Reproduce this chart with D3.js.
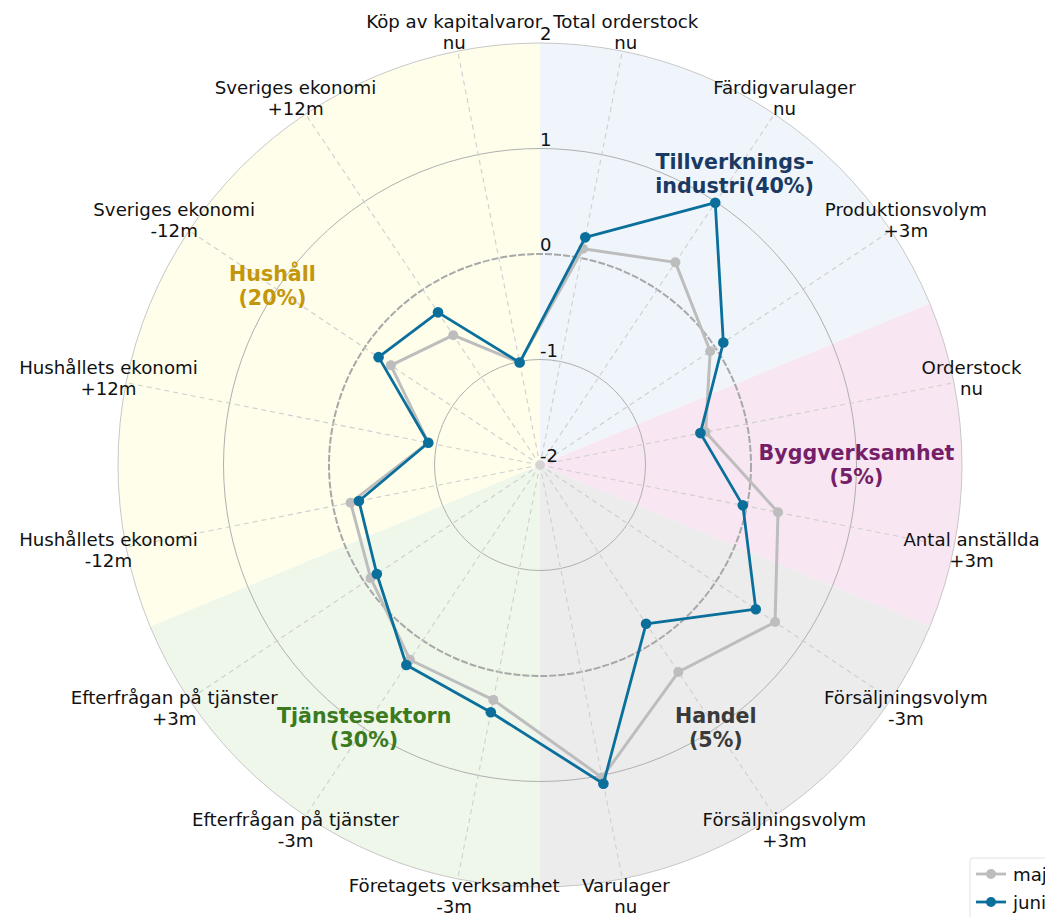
<!DOCTYPE html>
<html>
<head>
<meta charset="utf-8">
<script src="https://cdn.jsdelivr.net/npm/d3@7"></script>
<style>
  body { margin: 0; background: #fff; overflow: hidden; }
  svg { font-family: "DejaVu Sans", sans-serif; display: block; }
</style>
</head>
<body>
<svg id="chart" width="1045" height="917"></svg>
<script>

// questions, clockwise from the top
var categories = [
    ['Total orderstock', 'nu'],
    ['Färdigvarulager', 'nu'],
    ['Produktionsvolym', '+3m'],
    ['Orderstock', 'nu'],
    ['Antal anställda', '+3m'],
    ['Försäljningsvolym', '-3m'],
    ['Försäljningsvolym', '+3m'],
    ['Varulager', 'nu'],
    ['Företagets verksamhet', '-3m'],
    ['Efterfrågan på tjänster', '-3m'],
    ['Efterfrågan på tjänster', '+3m'],
    ['Hushållets ekonomi', '-12m'],
    ['Hushållets ekonomi', '+12m'],
    ['Sveriges ekonomi', '-12m'],
    ['Sveriges ekonomi', '+12m'],
    ['Köp av kapitalvaror', 'nu']
];

var seriesNames = ['maj', 'juni'];
var valuesPrev = [0.09, 0.31, -0.06, -0.40, 0.30, 0.68, 0.36, 1.02, 0.27, 0.22, -0.07, -0.17, -0.92, -0.30, -0.52, -1.01];
var valuesLast = [0.20, 0.99, 0.09, -0.45, -0.04, 0.46, -0.19, 1.08, 0.39, 0.28, -0.14, -0.25, -0.92, -0.16, -0.26, -1.01];

var sectorNames = [['Tillverknings-', 'industri(40%)'], ['Byggverksamhet', '(5%)'], ['Handel', '(5%)'], ['Tjänstesektorn', '(30%)'], ['Hushåll', '(20%)']];
var sectorCounts = [3, 2, 3, 3, 5];

var rTicks = [-2, -1, 0, 1, 2];

// styling
var sectorFill = ['#eff5fa', '#f8e6f2', '#ececec', '#eef7ea', '#fefeeb'];
var sectorText = ['#1b3a63', '#751f68', '#3a3a3a', '#3b7a1f', '#c4960c'];
var sectorLabelR = [1.32, 1.0, 1.0, 1.0, 1.05];
var seriesColors = ['#bdbdbd', '#0a6f9b'];

var cx = 540, cy = 465;
var n = categories.length;
var step = 2 * Math.PI / n;

var r = d3.scaleLinear().domain([-2, 2]).range([0, 422]);

function angleOf(i) { return (i + 0.5) * step; }
function px(a, rad) { return Math.sin(a) * rad; }
function py(a, rad) { return -Math.cos(a) * rad; }

var svg = d3.select('#chart');
var g = svg.append('g').attr('transform', 'translate(' + cx + ',' + cy + ')');

// sector backgrounds
var arc = d3.arc().innerRadius(0).outerRadius(r(2));
var start = 0;
var sectors = sectorCounts.map(function(c, i) {
    var s = { start: start * step, end: (start + c) * step, idx: i };
    start += c;
    return s;
});

g.selectAll('.sector')
    .data(sectors)
  .enter().append('path')
    .attr('class', 'sector')
    .attr('d', function(d) { return arc({ startAngle: d.start, endAngle: d.end }); })
    .attr('fill', function(d) { return sectorFill[d.idx]; });

// rings
g.selectAll('.ring')
    .data(rTicks.filter(function(t) { return t > -2; }))
  .enter().append('circle')
    .attr('class', 'ring')
    .attr('r', function(d) { return r(d); })
    .attr('fill', 'none')
    .attr('stroke', function(d) { return d == 0 ? '#a8a8a8' : (d == 2 ? '#c8c8c8' : '#b0b0b0'); })
    .attr('stroke-width', function(d) { return d == 0 ? 2 : 1; })
    .attr('stroke-dasharray', function(d) { return d == 0 ? '7,2' : null; });

// spokes
g.selectAll('.spoke')
    .data(categories)
  .enter().append('line')
    .attr('class', 'spoke')
    .attr('x1', 0).attr('y1', 0)
    .attr('x2', function(d, i) { return px(angleOf(i), r(2)); })
    .attr('y2', function(d, i) { return py(angleOf(i), r(2)); })
    .attr('stroke', '#cfcfcf')
    .attr('stroke-width', 1.1)
    .attr('stroke-dasharray', '5,4');

g.append('circle').attr('r', 4.5).attr('fill', '#d4d4d4');

// radial tick labels
g.selectAll('.rlabel')
    .data(rTicks)
  .enter().append('text')
    .attr('class', 'rlabel')
    .attr('x', 0)
    .attr('y', function(d) { return -r(d) - 3; })
    .attr('font-size', 18)
    .attr('fill', '#111')
    .text(function(d) { return d; });

// category labels
var labels = g.selectAll('.cat')
    .data(categories)
  .enter().append('text')
    .attr('class', 'cat')
    .attr('text-anchor', 'middle')
    .attr('font-size', 18.2)
    .attr('fill', '#111')
    .attr('transform', function(d, i) {
        var a = angleOf(i);
        return 'translate(' + px(a, 440) + ',' + py(a, 440) + ')';
    });

labels.append('tspan').attr('x', 0).attr('y', -5).text(function(d) { return d[0]; });
labels.append('tspan').attr('x', 0).attr('y', 16).text(function(d) { return d[1]; });

// sector labels
var slabels = g.selectAll('.slabel')
    .data(sectors)
  .enter().append('text')
    .attr('class', 'slabel')
    .attr('text-anchor', 'middle')
    .attr('font-size', 20.6)
    .attr('font-weight', 'bold')
    .attr('fill', function(d) { return sectorText[d.idx]; })
    .attr('transform', function(d) {
        var a = (d.start + d.end) / 2;
        var rr = r(sectorLabelR[d.idx]);
        return 'translate(' + px(a, rr) + ',' + py(a, rr) + ')';
    });

slabels.append('tspan').attr('x', 0).attr('y', -5).text(function(d) { return sectorNames[d.idx][0]; });
slabels.append('tspan').attr('x', 0).attr('y', 19).text(function(d) { return sectorNames[d.idx][1]; });

// series
var line = d3.lineRadial()
    .angle(function(d, i) { return angleOf(i); })
    .radius(function(d) { return r(d); })
    .curve(d3.curveLinearClosed);

[valuesPrev, valuesLast].forEach(function(vals, k) {
    var sg = g.append('g').attr('class', 'series');
    sg.append('path')
        .attr('d', line(vals))
        .attr('fill', 'none')
        .attr('stroke', seriesColors[k])
        .attr('stroke-width', k == 0 ? 3 : 2.8)
        .attr('stroke-linejoin', 'round');
    sg.selectAll('circle')
        .data(vals)
      .enter().append('circle')
        .attr('cx', function(d, i) { return px(angleOf(i), r(d)); })
        .attr('cy', function(d, i) { return py(angleOf(i), r(d)); })
        .attr('r', k == 0 ? 5 : 5.3)
        .attr('fill', seriesColors[k]);
});

// legend (partly outside the window, as in the original)
var legend = svg.append('g').attr('transform', 'translate(970,858)');
legend.append('rect')
    .attr('width', 120).attr('height', 62)
    .attr('rx', 3)
    .attr('fill', '#fff')
    .attr('fill-opacity', 0.85)
    .attr('stroke', '#e2e2e2');

seriesNames.forEach(function(name, k) {
    var row = legend.append('g').attr('transform', 'translate(0,' + (16 + k * 28) + ')');
    row.append('line')
        .attr('x1', 6).attr('x2', 36)
        .attr('stroke', seriesColors[k])
        .attr('stroke-width', 2.8);
    row.append('circle').attr('cx', 21).attr('r', 5).attr('fill', seriesColors[k]);
    row.append('text')
        .attr('x', 43).attr('y', 7)
        .attr('font-size', 18.2)
        .attr('fill', '#111')
        .text(name);
});

</script>
</body>
</html>
